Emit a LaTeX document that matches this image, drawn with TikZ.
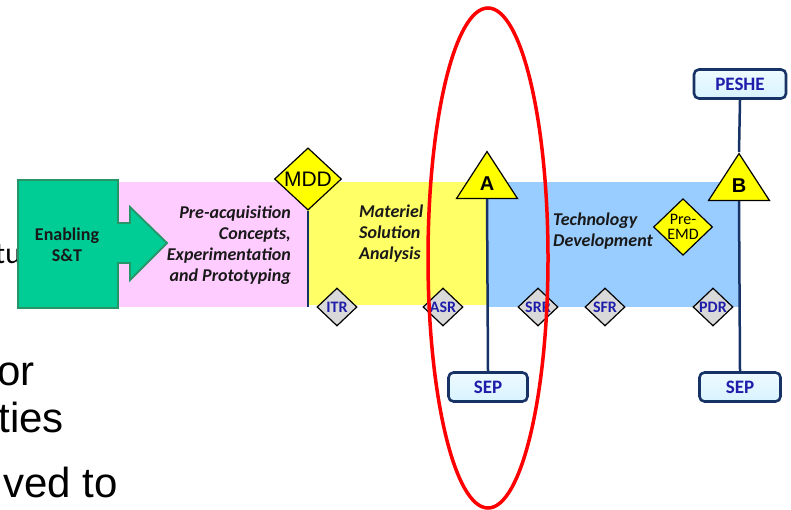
\documentclass[tikz,border=0pt]{standalone}
\usepackage{fontspec}
\setmainfont{Carlito}
\newfontfamily\arialfont{Liberation Sans}
\usetikzlibrary{positioning,shapes.geometric}

\definecolor{stgreen}{RGB}{0,204,150}
\definecolor{stgreenline}{RGB}{38,150,105}
\definecolor{prepink}{RGB}{255,204,255}
\definecolor{msayellow}{RGB}{255,255,102}
\definecolor{tdblue}{RGB}{153,204,255}
\definecolor{gateyellow}{RGB}{255,255,0}
\definecolor{stemnavy}{RGB}{23,50,100}
\definecolor{reviewgray}{RGB}{217,217,217}
\definecolor{reviewblue}{RGB}{30,30,170}
\definecolor{docfill}{RGB}{215,243,255}

\begin{document}
\begin{tikzpicture}[
  x=1pt, y=-1pt,
  band/.style={rectangle, draw=none, inner sep=0pt, anchor=north west},
  phase/.style={font=\fontsize{18}{21}\selectfont\bfseries\itshape, text=black!90, inner sep=0pt},
  review/.style={diamond, draw=black, line width=1.2pt, fill=reviewgray, inner sep=0pt, minimum width=40pt, minimum height=38pt, text=reviewblue, font=\fontsize{16}{16}\selectfont\bfseries},
  gate/.style={isosceles triangle, isosceles triangle stretches, shape border rotate=90, draw=black, line width=1.2pt, fill=gateyellow, inner sep=0pt, minimum width=61pt, minimum height=47pt, font=\arialfont\fontsize{20}{20}\selectfont\bfseries},
  doc/.style={rectangle, rounded corners=5pt, draw=stemnavy, line width=2.6pt, top color=docfill!40, bottom color=docfill, text=reviewblue, font=\fontsize{19}{19}\selectfont\bfseries, minimum height=29pt},
  stem/.style={draw=stemnavy, line width=2.5pt},
  sidetext/.style={font=\arialfont\fontsize{42}{42}\selectfont, inner sep=0pt}
]
\fill[white] (0,0) rectangle (791,510);
\useasboundingbox (0,0) rectangle (791,510);

% slide text running off the left edge
\node[font=\fontsize{30}{30}\selectfont, inner sep=0pt, anchor=base west] (t1) at (-5,263) {tu};
\node[sidetext, anchor=base east] (t2) at (35,385) {or};
\node[sidetext, anchor=base east] (t3) at (64,432) {ties};
\node[sidetext, anchor=base east] (t4) at (118,497) {ved to};

% phase bands
\node[band, fill=prepink, minimum width=189pt, minimum height=125pt] (pre) at (118,182) {};
\node[band, fill=msayellow, minimum width=180pt, minimum height=123pt] (msa) at (307,182) {};
\node[band, fill=tdblue, minimum width=253pt, minimum height=125pt] (td) at (487,182) {};

% enabling S&T arrow
\draw[draw=stgreenline, line width=1.8pt, fill=stgreen]
  (18,180) -- (118,180) -- (118,223) -- (130,223) -- (130,207) -- (167,243)
  -- (130,280) -- (130,263) -- (118,263) -- (118,308) -- (18,308) -- cycle;
\node[font=\fontsize{18}{21}\selectfont\bfseries, align=center, text=black!90] (st) at (67,245) {Enabling\\S\&T};

\node[phase, align=right, anchor=east] (pretext) at (291,245) {Pre-acquisition\\Concepts,\\Experimentation\\and Prototyping};
\node[phase, align=left, anchor=west] (msatext) at (359,234) {Materiel\\Solution\\Analysis};
\node[phase, align=left, anchor=west] (tdtext) at (553,231) {Technology\\Development};

% milestones and documents
\node[diamond, draw=black, line width=1.2pt, fill=gateyellow, inner sep=0pt, minimum width=67pt, minimum height=58pt, font=\arialfont\fontsize{21}{21}\selectfont] (mdd) at (308,179) {MDD};
\coordinate (mddfoot) at (308,307);
\node[gate, anchor=apex] (ga) at (487,150) {A};
\node[gate, anchor=apex] (gb) at (739,152) {B};
\node[diamond, draw=black, line width=1.2pt, fill=gateyellow, inner sep=0pt, minimum width=59pt, minimum height=53pt, align=center, font=\fontsize{16}{15}\selectfont] (emd) at (683,227) {Pre-\\EMD};

\node[doc, minimum width=92pt] (peshe) at (740,84) {PESHE};
\node[doc, minimum width=79pt] (sepa) at (488,387) {SEP};
\node[doc, minimum width=81pt] (sepb) at (740,387) {SEP};

\draw[stem] (mdd.south) -- (mddfoot);
\draw[stem] (ga.south) -- (sepa.north);
\draw[stem] (peshe.south) -- (gb.apex);
\draw[stem] (gb.south) -- (sepb.north);

% technical reviews
\node[review] (itr) at (337,307) {ITR};
\node[review] (asr) at (443,307) {ASR};
\node[review] (srr) at (538,307) {SRR};
\node[review] (sfr) at (605,307) {SFR};
\node[review] (pdr) at (713,307) {PDR};

\node[ellipse, draw=red, line width=3.5pt, minimum width=120pt, minimum height=500pt] (focus) at (488,258) {};
\end{tikzpicture}
\end{document}
